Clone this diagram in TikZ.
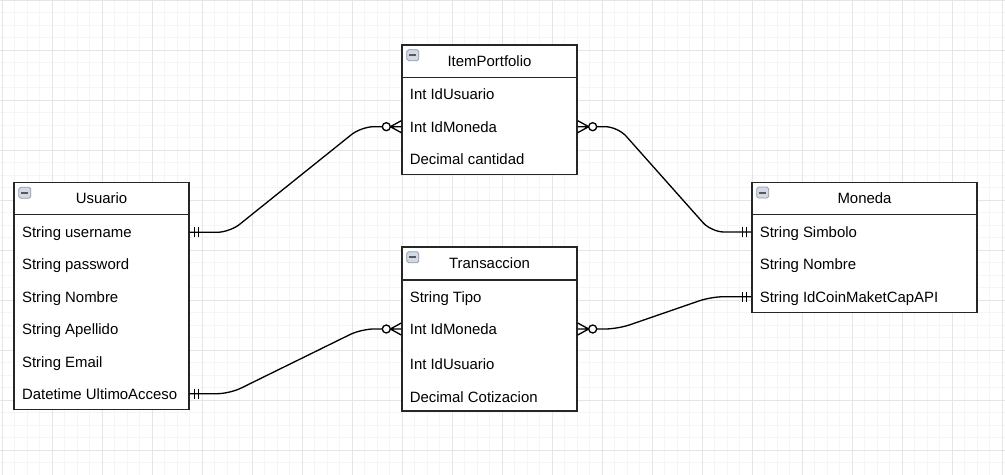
\documentclass[tikz,border=0pt]{standalone}
\usepackage{fontspec}
\setmainfont{Liberation Sans}
\usetikzlibrary{calc}
\definecolor{gridfine}{HTML}{F5F5F5}
\definecolor{gridbold}{HTML}{E5E5E5}
\definecolor{iconfill}{HTML}{D3DAE3}
\definecolor{iconline}{HTML}{8A99AD}
\begin{document}
\begin{tikzpicture}
[
x=0.02cm, y=-0.02cm,
font=\fontsize{8.5}{10}\selectfont,
gfine/.style={draw=gridfine, line width=0.5pt},
gbold/.style={draw=gridbold, line width=0.5pt},
hdr/.style={rectangle, draw=black!85, fill=white, line width=0.8pt, minimum width=3.5cm, minimum height=0.64cm, inner sep=0},
row/.style={anchor=west, inner sep=0, text height=6.2pt, text depth=0pt},
icon/.style={rectangle, rounded corners=1pt, draw=iconline, fill=iconfill, line width=0.4pt, minimum width=0.24cm, minimum height=0.22cm, inner sep=0},
conn/.style={draw=black, line width=0.75pt, rounded corners=0.25cm},
mandone/.pic={\draw[line width=0.75pt] (5,-5) -- (5,5) (9,-5) -- (9,5);},
zeromany/.pic={\draw[line width=0.75pt] (0,-6) -- (11,0) -- (0,6) (0,0) -- (11,0);
  \draw[line width=0.75pt, fill=white] (15,0) circle[radius=4];},
]

\fill[white] (0,0) rectangle (1005,475);
\useasboundingbox (0,0) rectangle (1005,475);
\foreach \i in {0,...,80} \draw[gfine] (2+12.5*\i,0) -- (2+12.5*\i,475);
\foreach \j in {0,...,38} \draw[gfine] (0,12.5*\j) -- (1005,12.5*\j);
\foreach \i in {0,...,20} \draw[gbold] (2+50*\i,0) -- (2+50*\i,475);
\foreach \j in {0,...,9} \draw[gbold] (0,50*\j) -- (1005,50*\j);

\node at (101.5,198.5) [hdr] (usr) {Usuario};
\node at (101.5,312) [hdr, minimum height=3.9cm] (usrbody) {};
\node at ($(usr.north west)+(11.5,11)$) [icon] (usricon) {\textcolor{black!65}{\rule{0.14cm}{0.04cm}}};
\node at (21.7,232.3) [row] (u1) {String username};
\node at (21.7,264.5) [row] (u2) {String password};
\node at (21.7,296.8) [row] (u3) {String Nombre};
\node at (21.7,329) [row] (u4) {String Apellido};
\node at (21.7,362) [row] (u5) {String Email};
\node at (21.7,393.7) [row] (u6) {Datetime UltimoAcceso};

\node at (489.5,61.2) [hdr, minimum height=0.65cm] (ip) {ItemPortfolio};
\node at (489.5,125.8) [hdr, minimum height=1.94cm] (ipbody) {};
\node at ($(ip.north west)+(11.5,11)$) [icon] (ipicon) {\textcolor{black!65}{\rule{0.14cm}{0.04cm}}};
\node at (409.5,94) [row] (ip1) {Int IdUsuario};
\node at (409.5,126.7) [row] (ip2) {Int IdMoneda};
\node at (409.5,159) [row] (ip3) {Decimal cantidad};

\node at (489.5,263.5) [hdr, minimum height=0.66cm] (tr) {Transaccion};
\node at (489.5,345.5) [hdr, minimum height=2.62cm] (trbody) {};
\node at ($(tr.north west)+(11.5,11)$) [icon] (tricon) {\textcolor{black!65}{\rule{0.14cm}{0.04cm}}};
\node at (409.5,297) [row] (t1) {String Tipo};
\node at (409.5,329) [row] (t2) {Int IdMoneda};
\node at (409.5,364) [row] (t3) {Int IdUsuario};
\node at (409.5,397) [row] (t4) {Decimal Cotizacion};

\node at (864.5,198.3) [hdr, minimum width=4.5cm] (mon) {Moneda};
\node at (864.5,263.3) [hdr, minimum width=4.5cm, minimum height=1.96cm] (monbody) {};
\node at ($(mon.north west)+(11.5,11)$) [icon] (monicon) {\textcolor{black!65}{\rule{0.14cm}{0.04cm}}};
\node at (759.5,232) [row] (m1) {String Simbolo};
\node at (759.5,264.2) [row] (m2) {String Nombre};
\node at (759.5,296.7) [row] (m3) {String IdCoinMaketCapAPI};

\draw[conn] (usrbody.east |- u1) -- ++(40,0) -- ($(ipbody.west |- ip2)+(-40,0)$) -- ++(21,0);
\pic at (usrbody.east |- u1) {mandone};
\pic[xscale=-1] at (ipbody.west |- ip2) {zeromany};

\draw[conn] ($(ipbody.east |- ip2)+(19,0)$) -- ++(21,0) -- ($(monbody.west |- m1)+(-40,0)$) -- (monbody.west |- m1);
\pic at (ipbody.east |- ip2) {zeromany};
\pic[xscale=-1] at (monbody.west |- m1) {mandone};

\draw[conn] (usrbody.east |- u6) -- ++(40,0) -- ($(trbody.west |- t2)+(-40,0)$) -- ++(21,0);
\pic at (usrbody.east |- u6) {mandone};
\pic[xscale=-1] at (trbody.west |- t2) {zeromany};

\draw[conn] ($(trbody.east |- t2)+(19,0)$) -- ++(21,0) -- ($(monbody.west |- m3)+(-40,0)$) -- (monbody.west |- m3);
\pic at (trbody.east |- t2) {zeromany};
\pic[xscale=-1] at (monbody.west |- m3) {mandone};

\end{tikzpicture}
\end{document}
